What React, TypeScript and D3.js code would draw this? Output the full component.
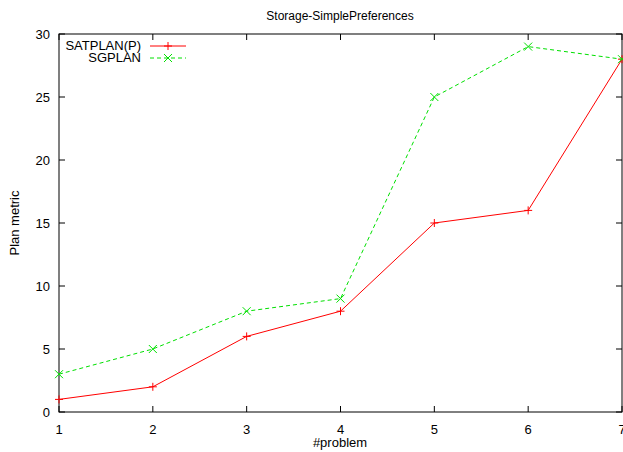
import React, { useEffect, useRef } from "react";
import * as d3 from "d3";

const problems = [1, 2, 3, 4, 5, 6, 7];
const satplan = [1, 2, 6, 8, 15, 16, 28];
const sgplan = [3, 5, 8, 9, 25, 29, 28];
const yTicks = [0, 5, 10, 15, 20, 25, 30];

const W = 623;
const H = 452;
const margin = { top: 34, right: 1, bottom: 40, left: 59 };

export default function App() {
  const ref = useRef<SVGSVGElement>(null);

  useEffect(() => {
    const svg = d3.select(ref.current);
    svg.selectAll("*").remove();
    const font = "'Liberation Sans', Arial, sans-serif";

    const x = d3.scaleLinear().domain([1, 7]).range([margin.left, W - margin.right]);
    const y = d3.scaleLinear().domain([0, 30]).range([H - margin.bottom, margin.top]);
    const x0 = x.range()[0], x1 = x.range()[1];
    const y0 = y.range()[0], y1 = y.range()[1];
    const tl = 6;

    const g = svg.append("g");

    // ticks (mirrored, inward)
    problems.forEach((p) => {
      g.append("line").attr("x1", x(p)).attr("x2", x(p)).attr("y1", y0).attr("y2", y0 - tl)
        .attr("stroke", "#000");
      g.append("line").attr("x1", x(p)).attr("x2", x(p)).attr("y1", y1).attr("y2", y1 + tl)
        .attr("stroke", "#000");
      g.append("text").attr("x", x(p)).attr("y", y0 + 22).attr("text-anchor", "middle")
        .attr("font-family", font).attr("font-size", 13).text(p);
    });
    yTicks.forEach((t) => {
      g.append("line").attr("x1", x0).attr("x2", x0 + tl).attr("y1", y(t)).attr("y2", y(t))
        .attr("stroke", "#000");
      g.append("line").attr("x1", x1).attr("x2", x1 - tl).attr("y1", y(t)).attr("y2", y(t))
        .attr("stroke", "#000");
      g.append("text").attr("x", x0 - 9).attr("y", y(t) + 5).attr("text-anchor", "end")
        .attr("font-family", font).attr("font-size", 13).text(t);
    });

    g.append("rect").attr("x", x0).attr("y", y1).attr("width", x1 - x0).attr("height", y0 - y1)
      .attr("fill", "none").attr("stroke", "#000").attr("stroke-width", 1);

    const line = d3.line<number>().x((d, i) => x(problems[i])).y((d) => y(d));

    const series = [
      { name: "SATPLAN(P)", data: satplan, color: "#ff0000", dash: null, mark: "plus" },
      { name: "SGPLAN", data: sgplan, color: "#00e000", dash: "4,3", mark: "cross" },
    ];

    const marker = (sel: any, cx: number, cy: number, kind: string, color: string) => {
      const s = 4;
      if (kind === "plus") {
        sel.append("path").attr("d", `M${cx - s},${cy}H${cx + s}M${cx},${cy - s}V${cy + s}`)
          .attr("stroke", color).attr("fill", "none");
      } else {
        sel.append("path").attr("d", `M${cx - s},${cy - s}L${cx + s},${cy + s}M${cx - s},${cy + s}L${cx + s},${cy - s}`)
          .attr("stroke", color).attr("fill", "none");
      }
    };

    series.forEach((s, k) => {
      g.append("path").attr("d", line(s.data)).attr("fill", "none").attr("stroke", s.color)
        .attr("stroke-width", 1).attr("stroke-dasharray", s.dash);
      s.data.forEach((v, i) => marker(g, x(problems[i]), y(v), s.mark, s.color));

      const ly = 46 + k * 12;
      g.append("text").attr("x", 141).attr("y", ly + 4).attr("text-anchor", "end")
        .attr("font-family", font).attr("font-size", 13).text(s.name);
      g.append("line").attr("x1", 150).attr("x2", 186).attr("y1", ly).attr("y2", ly)
        .attr("stroke", s.color).attr("stroke-dasharray", s.dash);
      marker(g, 168, ly, s.mark, s.color);
    });

    g.append("text").attr("x", 340).attr("y", 20).attr("text-anchor", "middle")
      .attr("font-family", font).attr("font-size", 12).text("Storage-SimplePreferences");
    g.append("text").attr("x", 340).attr("y", 447).attr("text-anchor", "middle")
      .attr("font-family", font).attr("font-size", 13).text("#problem");
    g.append("text").attr("transform", `translate(19,${(y0 + y1) / 2}) rotate(-90)`)
      .attr("text-anchor", "middle").attr("font-family", font).attr("font-size", 13)
      .text("Plan metric");
  }, []);

  return (
    <svg ref={ref} width={W} height={H}
      style={{ position: "absolute", left: 0, top: 0, background: "#fff" }} />
  );
}
